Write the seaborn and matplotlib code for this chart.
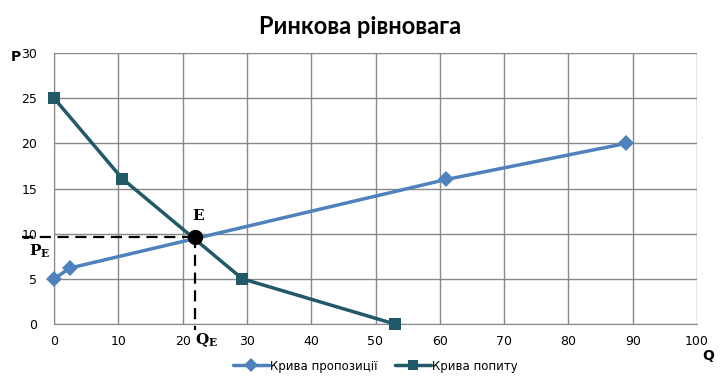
import pandas as pd
import matplotlib.pyplot as plt
import seaborn as sns

supply_q = [0, 2.5, 61, 89]
supply_p = [5, 6.2, 16, 20]
demand_q = [0, 10.6, 29.3, 53]
demand_p = [25, 16.1, 5, 0]
eq_q, eq_p = 22, 9.6

supply = pd.DataFrame({'Q': supply_q, 'P': supply_p, 'Крива': 'Крива пропозиції'})
demand = pd.DataFrame({'Q': demand_q, 'P': demand_p, 'Крива': 'Крива попиту'})
data = pd.concat([supply, demand], ignore_index=True)

sns.set_style('white')
plt.rcParams['font.family'] = ['DejaVu Sans']
plt.rcParams['mathtext.fontset'] = 'dejavuserif'
plt.rcParams['text.color'] = 'black'
plt.rcParams['xtick.labelcolor'] = 'black'
plt.rcParams['ytick.labelcolor'] = 'black'

fig = plt.figure(figsize=(7.2, 3.83), dpi=100)
ax = fig.add_axes([54 / 720, 1 - 324 / 383, (697 - 54) / 720, (324 - 53) / 383])

sns.lineplot(data=data, x='Q', y='P', hue='Крива', style='Крива', sort=False,
             palette=['#4F81BD', '#215968'], markers=['D', 's'], dashes=False,
             markersize=8, linewidth=2.5, markeredgewidth=0, ax=ax)
for line in ax.lines:
    line.set_clip_on(False)
    line.set_zorder(4)

ax.plot([-5, eq_q], [eq_p, eq_p], color='black', linestyle=(0, (5, 3)), lw=1.6, clip_on=False, zorder=3)
ax.plot([eq_q, eq_q], [eq_p, -0.7], color='black', linestyle=(0, (5, 3)), lw=1.6, clip_on=False, zorder=3)
ax.plot(eq_q, eq_p, 'o', color='black', markersize=10, zorder=5)

ax.set_xlim(0, 100)
ax.set_ylim(0, 30)
ax.set_xticks(range(0, 101, 10))
ax.set_yticks(range(0, 31, 5))
ax.grid(True, color='#888888', linewidth=1)
ax.set_axisbelow(True)
for s in ['top', 'right']:
    ax.spines[s].set_visible(False)
ax.spines['left'].set_color('#888888')
ax.spines['bottom'].set_color('#888888')
ax.tick_params(axis='x', length=4, color='#888888', labelsize=9, pad=4, labelcolor='black')
ax.tick_params(axis='y', length=4, color='#888888', labelsize=9, pad=8, labelcolor='black')
ax.set_xlabel('')
ax.set_ylabel('')

fig.text(16 / 720, 1 - 57 / 383, 'P', fontsize=10, fontweight='bold', ha='center', va='center')
fig.text(708 / 720, 1 - 356 / 383, 'Q', fontsize=10, fontweight='bold', ha='center', va='center')
fig.text(198 / 720, 1 - 215 / 383, r'$\mathbf{E}$', fontsize=11, ha='center', va='center')
fig.text(40 / 720, 1 - 251 / 383, r'$\mathbf{P_E}$', fontsize=11, ha='center', va='center')
fig.text(207 / 720, 1 - 340 / 383, r'$\mathbf{Q_E}$', fontsize=11, ha='center', va='center')

fig.suptitle('Ринкова рівновага', x=0.5, y=1 - 27 / 383, va='center', fontsize=17, fontweight='bold',
             fontfamily='Lato', color='black')

leg = ax.legend(loc='center', bbox_to_anchor=(0.5, -0.155), ncol=2, frameon=False, fontsize=8.5,
                handlelength=3, columnspacing=1.5, handletextpad=0.1)
for h in leg.legend_handles:
    h.set_markersize(7)
for t in leg.get_texts():
    t.set_color('black')

fig.savefig('out.png', dpi=100)
